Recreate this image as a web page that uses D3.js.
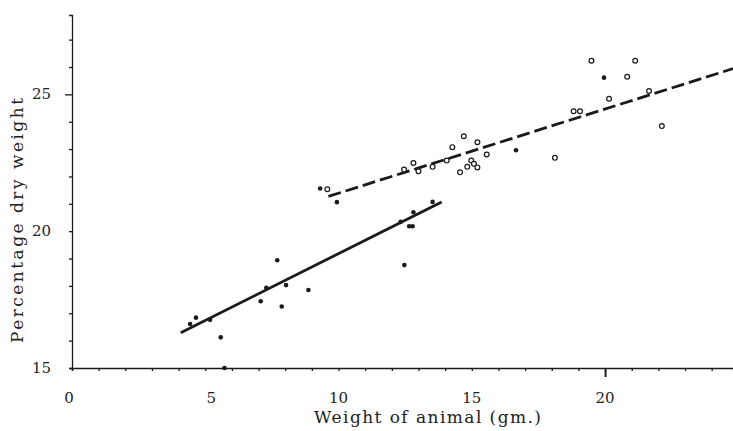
<!DOCTYPE html>
<html>
<head>
<meta charset="utf-8">
<script src="https://cdn.jsdelivr.net/npm/d3@7"></script>
<style>
  body { margin: 0; background: #fff; }
  text { font-family: "DejaVu Serif", serif; fill: #222; }
</style>
</head>
<body>
<svg id="chart" width="733" height="431"></svg>
<script>
// filled dots (lower group)
const filledX = [4.43, 4.65, 5.18, 5.58, 5.72, 7.08, 7.29, 7.70, 8.03, 7.87, 8.87, 9.31, 9.94, 12.33, 12.47, 12.65, 12.78, 12.81, 13.53, 16.66, 19.96];
const filledY = [16.61, 16.84, 16.76, 16.12, 15.0, 17.44, 17.93, 18.94, 18.03, 17.25, 17.85, 21.56, 21.06, 20.34, 18.76, 20.18, 20.18, 20.69, 21.07, 22.96, 25.61];

// open circles (upper group)
const openX = [9.58, 12.46, 12.81, 13.0, 13.53, 14.06, 14.27, 14.56, 14.70, 14.83, 14.98, 15.08, 15.21, 15.21, 15.56, 18.12, 18.82, 19.06, 19.49, 20.15, 20.83, 21.13, 21.65, 22.13];
const openY = [21.53, 22.25, 22.49, 22.19, 22.35, 22.58, 23.07, 22.15, 23.47, 22.35, 22.58, 22.46, 22.33, 23.25, 22.80, 22.68, 24.38, 24.38, 26.23, 24.84, 25.64, 26.23, 25.12, 23.84];

// fitted lines
const solidLine = [[4.08, 16.29], [13.87, 21.07]];
const dashedLine = [[9.62, 21.27], [24.8, 25.94]];

const xTicks = [0, 5, 10, 15, 20];
const yTicks = [15, 20, 25];

const svg = d3.select("#chart");

const x = d3.scaleLinear().domain([0, 24.8]).range([72, 733]);
const y = d3.scaleLinear().domain([15, 27.9]).range([368, 15]);

const ink = "#1a1a1a";

// axes
const xAxis = d3.axisBottom(x)
  .tickValues(d3.range(0, 25, 1))
  .tickSize(3)
  .tickFormat("");
const gx = svg.append("g").attr("transform", `translate(0,${y(15)})`).call(xAxis);
gx.selectAll("path,line").attr("stroke", ink).attr("stroke-width", 1.3);
gx.selectAll(".tick line").filter(d => d === 20).attr("y2", 9).attr("stroke-width", 2);

const yAxis = d3.axisLeft(y)
  .tickValues(d3.range(15, 28, 1))
  .tickSize(3)
  .tickFormat("");
const gy = svg.append("g").attr("transform", `translate(${x(0)},0)`).call(yAxis);
gy.selectAll("path,line").attr("stroke", ink).attr("stroke-width", 1.3);
gy.selectAll(".tick line").filter(d => d === 25).attr("x2", -7);

// tick labels
svg.selectAll(".xlab")
  .data(xTicks)
  .enter()
  .append("text")
  .attr("class", "xlab")
  .attr("x", d => x(d) + (d === 5 ? 6 : 0) - (d === 0 ? 3 : 0))
  .attr("y", 403)
  .attr("text-anchor", "middle")
  .attr("font-size", 15)
  .text(d => d);

svg.selectAll(".ylab")
  .data(yTicks)
  .enter()
  .append("text")
  .attr("class", "ylab")
  .attr("x", 51)
  .attr("y", d => y(d) + 5)
  .attr("text-anchor", "end")
  .attr("font-size", 15)
  .text(d => d);

// axis titles
svg.append("text")
  .attr("x", 314)
  .attr("y", 423)
  .attr("font-size", 17)
  .attr("textLength", 227)
  .attr("lengthAdjust", "spacing")
  .text("Weight of animal (gm.)");

svg.append("text")
  .attr("transform", "translate(23,343) rotate(-90)")
  .attr("font-size", 17)
  .attr("textLength", 245)
  .attr("lengthAdjust", "spacing")
  .text("Percentage dry weight");

// lines
const line = d3.line().x(d => x(d[0])).y(d => y(d[1]));

svg.append("path")
  .attr("d", line(solidLine))
  .attr("fill", "none")
  .attr("stroke", ink)
  .attr("stroke-width", 2.8);

svg.append("path")
  .attr("d", line(dashedLine))
  .attr("fill", "none")
  .attr("stroke", ink)
  .attr("stroke-width", 2.8)
  .attr("stroke-dasharray", "13,5");

// points
svg.selectAll(".filled")
  .data(filledX)
  .enter()
  .append("circle")
  .attr("class", "filled")
  .attr("cx", d => x(d))
  .attr("cy", (d, i) => y(filledY[i]))
  .attr("r", 2.3)
  .attr("fill", ink);

svg.selectAll(".open")
  .data(openX)
  .enter()
  .append("circle")
  .attr("class", "open")
  .attr("cx", d => x(d))
  .attr("cy", (d, i) => y(openY[i]))
  .attr("r", 2.4)
  .attr("fill", "#fff")
  .attr("stroke", ink)
  .attr("stroke-width", 1.2);
</script>
</body>
</html>
